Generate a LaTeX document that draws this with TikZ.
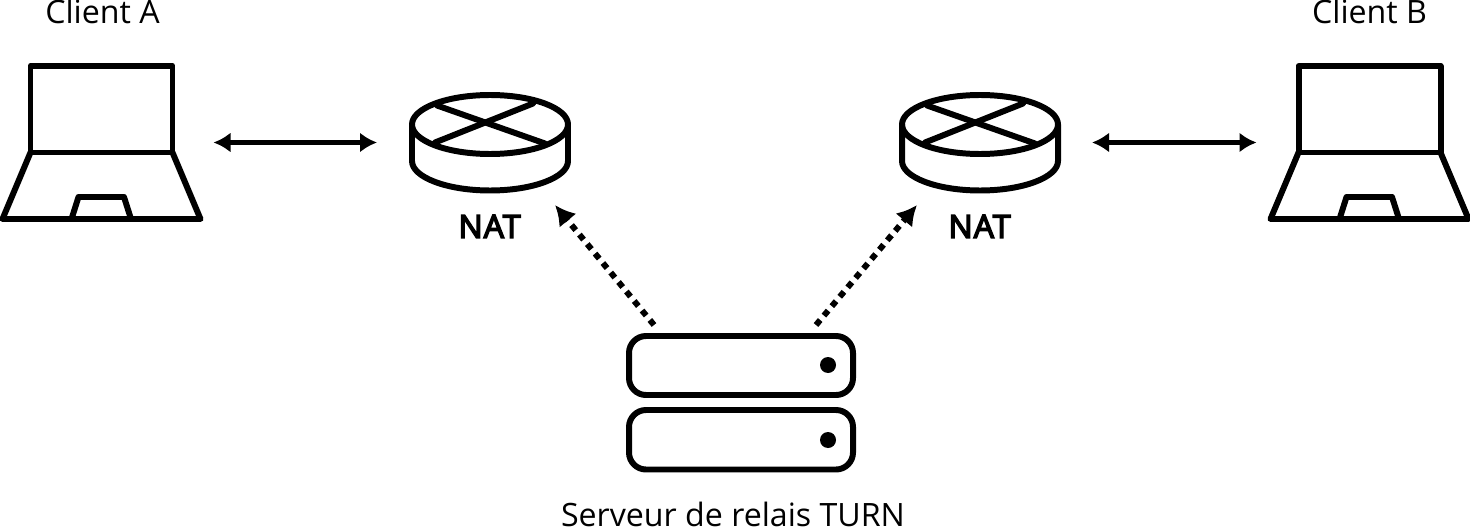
\documentclass[tikz,border=0pt]{standalone}
\usepackage{fontspec}
\setmainfont{Open Sans}
\newfontfamily\natfont[FakeBold=4.5,LetterSpace=3]{Open Sans}
\usetikzlibrary{arrows.meta}
\tikzset{
  icon/.style={line width=1.7pt, line join=round, line cap=round},
  iconbox/.style={inner sep=0pt, outer sep=0pt},
  label/.style={anchor=base, font=\fontsize{9.15}{11}\selectfont, inner sep=0pt},
  natlabel/.style={anchor=base, font=\fontsize{9.15}{11}\selectfont\natfont, inner sep=0pt},
  link/.style={line width=1.4pt, {Latex[length=0.17cm,width=0.2cm]}-{Latex[length=0.17cm,width=0.2cm]}},
  relay/.style={line width=1.7pt, dash pattern=on 0.065cm off 0.058cm, -{Latex[length=0.2cm,width=0.22cm]}},
  laptop/.pic={
    \draw[icon] (-0.71,-0.10) rectangle (0.71,0.765);
    \draw[icon] (-0.71,-0.10) -- (-0.99,-0.765) -- (0.99,-0.765) -- (0.71,-0.10);
    \draw[icon] (-0.30,-0.765) -- (-0.23,-0.545) -- (0.225,-0.545) -- (0.295,-0.765);
  },
  router/.pic={
    \draw[icon] (0,0.18) ellipse (0.78 and 0.295);
    \draw[icon] (-0.78,0.18) -- (-0.78,-0.185) arc (180:360:0.78 and 0.295) -- (0.78,0.18);
    \draw[icon] (-0.53,0.37) -- (0.55,-0.01);
    \draw[icon] (0.43,0.39) -- (-0.55,0);
  },
  rack/.pic={
    \draw[icon, rounded corners=0.17cm] (-1.12,0.08) rectangle (1.12,0.67);
    \draw[icon, rounded corners=0.17cm] (-1.12,-0.665) rectangle (1.12,-0.07);
    \fill (0.87,0.38) circle (0.08);
    \fill (0.87,-0.37) circle (0.08);
  }
}
\begin{document}
\begin{tikzpicture}
    \useasboundingbox (0,0) rectangle (14.7,5.28);

    % Clients
    \node[iconbox, minimum width=2cm, minimum height=1.55cm] (clientA) at (1.015,3.855) {};
    \node[iconbox, minimum width=2cm, minimum height=1.55cm] (clientB) at (13.695,3.855) {};
    \pic at (clientA.center) {laptop};
    \pic at (clientB.center) {laptop};
    \node[label] (labelA) at (1.025,5.04) {Client A};
    \node[label] (labelB) at (13.695,5.04) {Client B};

    % Routeurs NAT
    \node[iconbox, minimum width=1.6cm, minimum height=1cm] (natA) at (4.90,3.855) {};
    \node[iconbox, minimum width=1.6cm, minimum height=1cm] (natB) at (9.80,3.855) {};
    \pic at (natA.center) {router};
    \pic at (natB.center) {router};
    \node[natlabel] (labelNatA) at (4.895,2.90) {NAT};
    \node[natlabel] (labelNatB) at (9.795,2.90) {NAT};

    % Serveur
    \node[iconbox, minimum width=2.3cm, minimum height=1.38cm] (turn) at (7.41,1.25) {};
    \pic at (turn.center) {rack};
    \node[label] (labelTurn) at (7.33,0.02) {Serveur de relais TURN};

    % Liaisons
    \draw[link, shorten <=0.12cm, shorten >=0.33cm] (clientA) -- (natA);
    \draw[link, shorten <=0.32cm, shorten >=0.13cm] (natB) -- (clientB);

    % Relais
    \coordinate (startA) at (6.54,2.03);
    \coordinate (startB) at (8.16,2.03);
    \coordinate (tipA) at (5.55,3.23);
    \coordinate (tipB) at (9.17,3.23);
    \draw[relay] (startA) -- (tipA);
    \draw[relay] (startB) -- (tipB);
\end{tikzpicture}
\end{document}
